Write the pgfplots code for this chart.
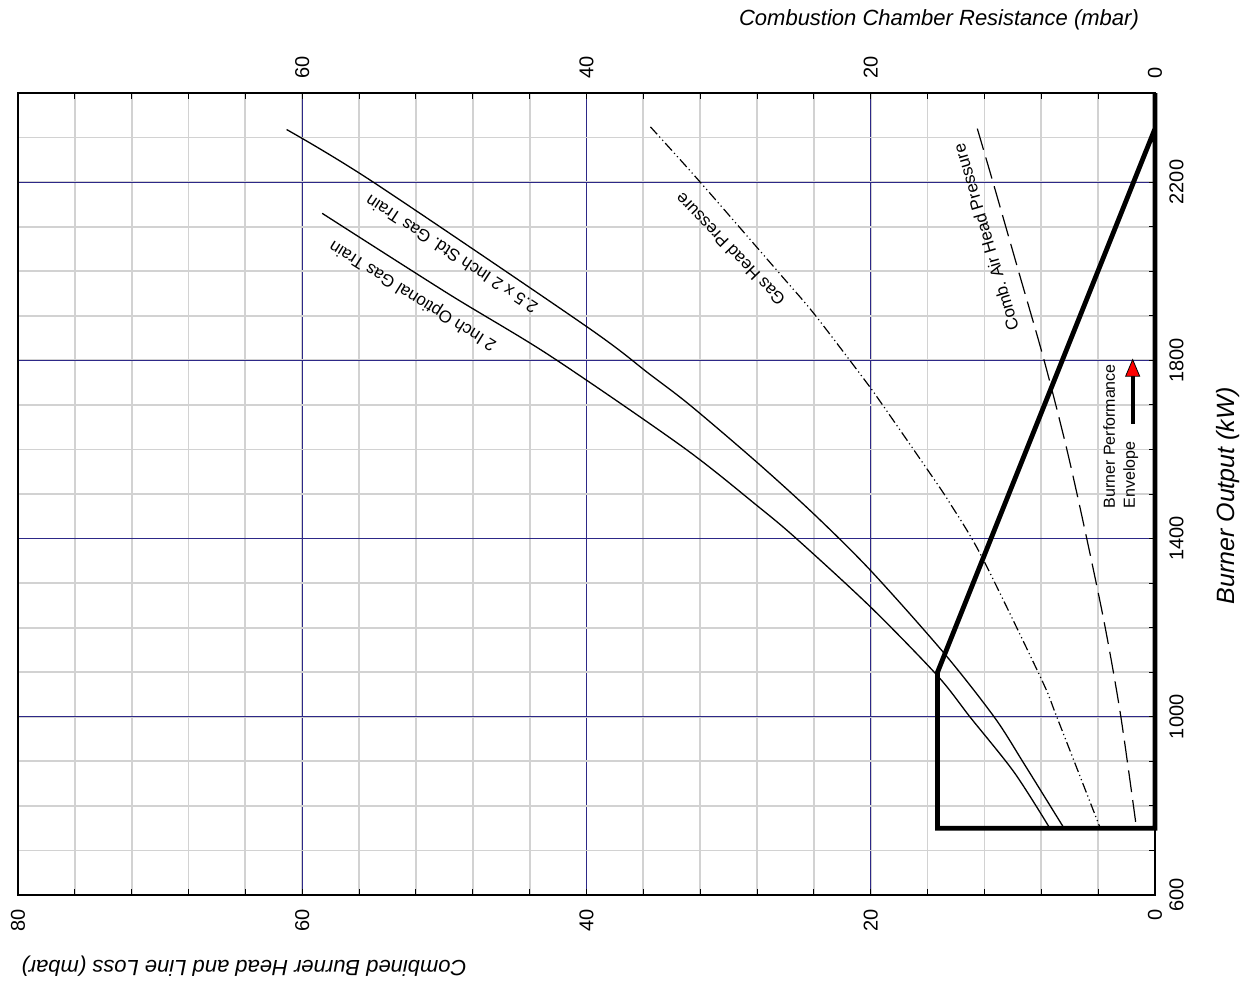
\documentclass[border=0pt]{standalone}
\usepackage{pgfplots}
\pgfplotsset{compat=1.18}
\usepackage{fontspec}
\setmainfont{Liberation Sans}
\usetikzlibrary{arrows.meta}
\definecolor{gridnavy}{RGB}{45,40,135}
\definecolor{gridgray}{RGB}{210,210,210}
\frenchspacing

\pgfplotstableread{
mbar kW
61.1 2318
55.1 2202
40.0 1876
35.6 1770
32.7 1699
28.0 1571
24.0 1455
20.0 1328
14.9 1145
11.3 999
9.2 894
6.4 750
}\stdtrain

\pgfplotstableread{
mbar kW
58.6 2130
49.7 1949
42.6 1811
33.2 1605
28.0 1474
25.2 1399
20.0 1246
15.3 1092
13.0 999
9.9 875
7.4 750
}\opttrain

\pgfplotstableread{
mbar kW
35.5 2324
32.0 2200
26.2 1987
24.0 1905
20.5 1759
19.3 1706
15.8 1545
14.4 1478
12.2 1360
8.0 1085
6.9 999
3.85 750
}\gashead

\pgfplotstableread{
mbar kW
12.5 2320
11.4 2200
9.6 2000
7.8 1800
6.2 1600
4.8 1400
3.5 1200
2.4 1000
1.3 750
}\airhead

\pgfplotstableread{
mbar kW
0 2400
0 750
15.3 750
15.3 1100
0 2320
}\envelope

\begin{document}
\begin{tikzpicture}
\path[use as bounding box] (-293.25pt,-246pt) rectangle (331.75pt,247pt);
\begin{axis}[
  at={(0,0)}, anchor=center,
  scale only axis, width=568.5pt, height=401pt,
  xmin=0, xmax=80, x dir=reverse,
  ymin=600, ymax=2400,
  clip=false,
  xtick={0,20,40,60,80},
  minor xtick={0,4,...,80},
  ytick={600,1000,1400,1800,2200},
  minor ytick={600,700,...,2400},
  grid=both,
  major grid style={gridnavy, line width=0.6pt},
  minor grid style={gridgray, line width=0.9pt},
  tick align=inside,
  major tick length=3pt, minor tick length=3pt,
  every tick/.style={black, line width=0.5pt},
  xtick pos=both, ytick pos=right,
  yticklabel pos=right,
  axis line style={black, line width=0.6pt},
  /pgf/number format/assume math mode=true,
  /pgf/number format/1000 sep={},
  tick label style={font=\fontsize{10}{12}\selectfont},
  xticklabel style={rotate=90, anchor=east, inner sep=0pt},
  yticklabel style={rotate=90, anchor=north, inner sep=0pt},
  xticklabel shift=7pt,
  yticklabel shift=7pt,
]
\addplot[black, line width=0.65pt, smooth, tension=0.5] table[x=mbar, y=kW] {\stdtrain};
\addplot[black, line width=0.65pt, smooth, tension=0.5] table[x=mbar, y=kW] {\opttrain};
\addplot[black, line width=0.6pt, smooth, tension=0.5, dash pattern=on 5pt off 1.6pt on 0.6pt off 1.6pt on 0.6pt off 1.6pt] table[x=mbar, y=kW] {\gashead};
\addplot[black, line width=0.6pt, smooth, tension=0.5, dash pattern=on 11pt off 4pt] table[x=mbar, y=kW] {\airhead};
\addplot[black, line width=2.4pt, line join=miter] table[x=mbar, y=kW] {\envelope};

\node[rotate=146.7, font=\fontsize{8.5}{10}\selectfont] at (axis cs:49.5,2038) {2.5 x 2 Inch Std.\ Gas Train};
\node[rotate=148, font=\fontsize{8.5}{10}\selectfont] at (axis cs:52.2,1946) {2 Inch Optional Gas Train};
\node[rotate=134, font=\fontsize{8.5}{10}\selectfont] at (axis cs:29.9,2049) {Gas Head Pressure};
\node[rotate=106.5, font=\fontsize{8.5}{10}\selectfont] at (axis cs:11.9,2076) {Comb.\ Air Head Pressure};
\node[rotate=90, anchor=west, align=left, inner sep=0pt, font=\fontsize{8}{10}\selectfont] at (axis cs:2.4,1467) {Burner Performance\\Envelope};
\draw[line width=2pt, -{Triangle[length=9pt, width=7.5pt, fill=red, line width=0.4pt]}] (axis cs:1.57,1658) -- (axis cs:1.57,1804);
\end{axis}
\begin{axis}[
  at={(0,0)}, anchor=center,
  scale only axis, width=568.5pt, height=401pt,
  xmin=0, xmax=80, x dir=reverse,
  ymin=600, ymax=2400,
  axis x line*=top, axis y line=none,
  axis line style={black, line width=0.6pt},
  xtick={0,20,40,60},
  major tick length=0pt,
  /pgf/number format/assume math mode=true,
  tick label style={font=\fontsize{10}{12}\selectfont},
  xticklabel style={rotate=90, anchor=west, inner sep=0pt},
  xticklabel shift=7pt,
]
\end{axis}
\node[rotate=180, font=\itshape\fontsize{11}{13}\selectfont] at (-171.25pt,-236pt) {Combined Burner Head and Line Loss (mbar)};
\node[font=\itshape\fontsize{11}{13}\selectfont] at (176.25pt,237pt) {Combustion Chamber Resistance (mbar)};
\node[rotate=90, font=\itshape\fontsize{12.5}{15}\selectfont] at (320.75pt,-1pt) {Burner Output (kW)};
\end{tikzpicture}
\end{document}
